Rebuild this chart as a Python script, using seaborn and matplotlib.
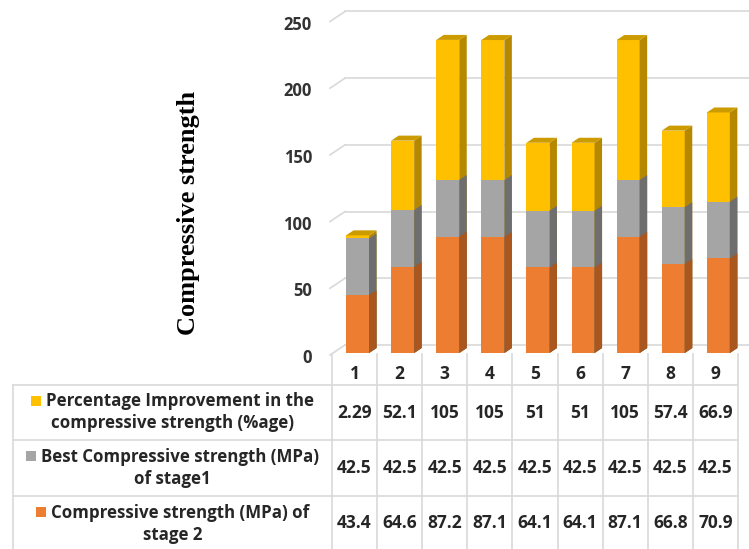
import matplotlib
matplotlib.use("Agg")
import matplotlib.pyplot as plt
import seaborn as sns
import pandas as pd
from matplotlib.patches import Polygon, Rectangle
from matplotlib.lines import Line2D
from matplotlib import transforms

# ---- data -------------------------------------------------------------
samples = ["1", "2", "3", "4", "5", "6", "7", "8", "9"]
stage2_strength = [43.4, 64.6, 87.2, 87.1, 64.1, 64.1, 87.1, 66.8, 70.9]
stage1_best = [42.5, 42.5, 42.5, 42.5, 42.5, 42.5, 42.5, 42.5, 42.5]
improvement_pct = [2.29, 52.1, 105, 105, 51, 51, 105, 57.4, 66.9]
y_ticks = [0, 50, 100, 150, 200, 250]

series_names = [
    ("Percentage Improvement in the", "compressive strength (%age)"),
    ("Best Compressive strength (MPa)", "of stage1"),
    ("Compressive strength (MPa) of", "stage 2"),
]
front_colors = ["#FFC000", "#A5A5A5", "#ED7D31"]
side_colors = ["#B58800", "#6E6E6E", "#A9561F"]
top_color = "#CC9B00"
grid_color = "#D9D9D9"
text_color = "#262626"
table_font = dict(family="Open Sans", fontweight="bold", color=text_color)

# ---- figure / layout (pixel based) -----------------------------------
W, H = 749, 549
fig = plt.figure(figsize=(W / 100, H / 100), dpi=100)
fig.patch.set_facecolor("white")
px = transforms.Affine2D().scale(1 / W, -1 / H).translate(0, 1) + fig.transFigure


def frac_box(left, top, right, bottom):
    return [left / W, 1 - bottom / H, (right - left) / W, (bottom - top) / H]


col_left, col_w = 332, 45.1
ax_right, ax_bottom, base_px = 749, 360, 353
ppu = 1.334  # pixels per data unit on the value axis

ax = fig.add_axes(frac_box(col_left, 0, ax_right, ax_bottom))
ax.patch.set_visible(False)

df = pd.DataFrame({
    "sample": samples,
    "stage2": stage2_strength,
    "stage1": stage1_best,
    "improvement": improvement_pct,
})
df["level2"] = df["stage2"] + df["stage1"]
df["level3"] = df["level2"] + df["improvement"]

# stacked front faces: tallest first so lower segments paint over it
for col, c in zip(["level3", "level2", "stage2"], front_colors):
    sns.barplot(data=df, x="sample", y=col, order=samples, color=c,
                saturation=1, width=0.51, errorbar=None, linewidth=0,
                zorder=3, ax=ax)

xlim = (-0.5, -0.5 + (ax_right - col_left) / col_w)
ylim = (-(ax_bottom - base_px) / ppu, base_px / ppu)
ax.set_xlim(xlim)
ax.set_ylim(ylim)
ax.axis("off")

# depth of the bars (pseudo 3-D)
ddx, ddy = 7.5 / col_w, 5 / ppu
shift = 3 / col_w
bars = list(ax.patches)
n = len(samples)
for k, p in enumerate(bars):
    p.set_x(p.get_x() + shift)
    s = k // n
    xl, w, h = p.get_x(), p.get_width(), p.get_height()
    xr = xl + w
    side = Polygon([(xr, 0), (xr + ddx, ddy), (xr + ddx, h + ddy), (xr, h)],
                   closed=True, facecolor=side_colors[s], edgecolor="none",
                   zorder=3)
    ax.add_patch(side)
    if s == 0:
        top = Polygon([(xl, h), (xl + ddx, h + ddy), (xr + ddx, h + ddy), (xr, h)],
                      closed=True, facecolor=top_color, edgecolor="none",
                      zorder=3)
        ax.add_patch(top)

# back-wall gridlines with the short perspective stub on the left
back_dx, back_dy = 13 / col_w, 8 / ppu
for v in y_ticks:
    vb = v + back_dy
    ax.add_line(Line2D([xlim[0] + back_dx, xlim[1]], [vb, vb], color=grid_color,
                       lw=1.2, zorder=1))
    ax.add_line(Line2D([xlim[0] - 2 / col_w, xlim[0] + back_dx],
                       [v - 2 / ppu, vb], color=grid_color, lw=1.2, zorder=1,
                       clip_on=False))
    ax.text(xlim[0] - 20 / col_w, v - 5 / ppu, str(v), ha="right", va="center",
            fontsize=12, fontweight="bold", family="Open Sans", color="#333333",
            clip_on=False)

fig.text(189 / W, 1 - 213 / H, "Compressive strength", rotation=90,
         ha="center", va="center", fontsize=19, fontweight="bold",
         family="Liberation Serif", color="black")

# ---- data table under the chart --------------------------------------
tab_left, header_top = 13, 354
row_edges = [385, 440, 496, 551]
colx = transforms.blended_transform_factory(ax.transData, px)

for i in range(len(samples) + 1):
    fig.add_artist(Line2D([i - 0.5, i - 0.5], [header_top, H + 2],
                          transform=colx, color=grid_color, lw=1.2))
tab_right_px = ax.transData.transform((len(samples) - 0.5, 0))[0]
for yr in row_edges[:-1]:
    fig.add_artist(Line2D([tab_left, tab_right_px], [yr, yr], transform=px,
                          color=grid_color, lw=1.2))
fig.add_artist(Line2D([tab_left, tab_left], [row_edges[0], H + 2], transform=px,
                      color=grid_color, lw=1.2))

# header with the sample numbers
for i, s in enumerate(samples):
    fig.text(i, 374, s, transform=colx, ha="center", va="center",
             fontsize=12.5, **table_font)

row_values = [improvement_pct, stage1_best, stage2_strength]
renderer = fig.canvas.get_renderer()
label_cx = (tab_left + col_left) / 2
for r, (vals, (l1, l2), c) in enumerate(zip(row_values, series_names, front_colors)):
    yc = (row_edges[r] + row_edges[r + 1]) / 2
    for i, v in enumerate(vals):
        fig.text(i, yc, f"{v:g}", transform=colx, ha="center", va="center",
                 fontsize=12.5, **table_font)
    t1 = fig.text(0, yc - 11, l1, transform=px, ha="left", va="center",
                  fontsize=12.2, **table_font)
    tw = t1.get_window_extent(renderer).width
    sq, gap = 10, 5
    start = label_cx - (sq + gap + tw) / 2
    t1.set_x(start + sq + gap)
    fig.add_artist(Rectangle((start, yc - 12 - sq / 2), sq, sq, transform=px,
                             facecolor=c, edgecolor="none"))
    fig.text(label_cx, yc + 11, l2, transform=px, ha="center", va="center",
             fontsize=12.2, **table_font)

fig.savefig("out.png", dpi=100)
